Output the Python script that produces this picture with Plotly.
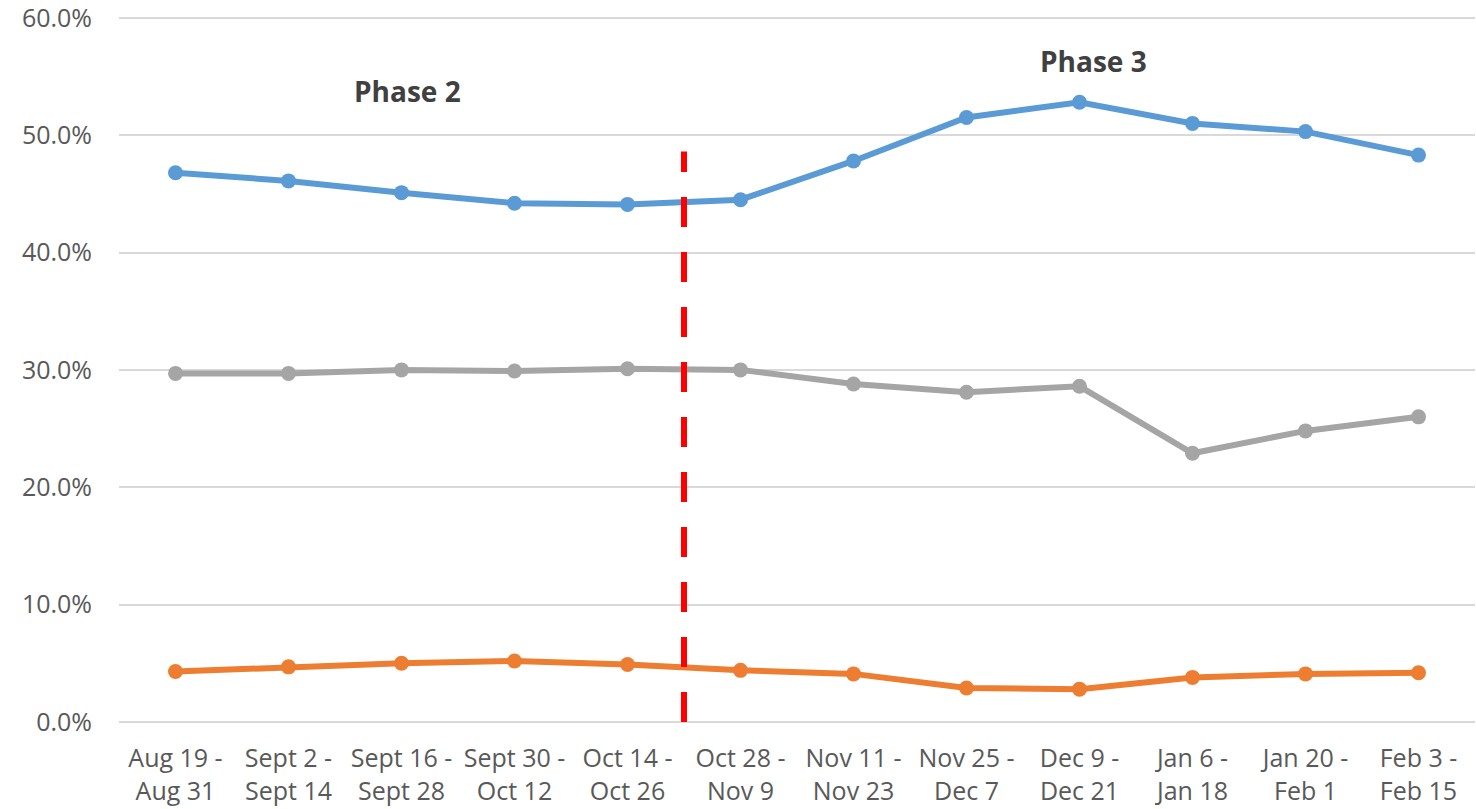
import plotly.graph_objects as go

categories = ["Aug 19 -<br>Aug 31", "Sept 2 -<br>Sept 14", "Sept 16 -<br>Sept 28", "Sept 30 -<br>Oct 12",
              "Oct 14 -<br>Oct 26", "Oct 28 -<br>Nov 9", "Nov 11 -<br>Nov 23", "Nov 25 -<br>Dec 7",
              "Dec 9 -<br>Dec 21", "Jan 6 -<br>Jan 18", "Jan 20 -<br>Feb 1", "Feb 3 -<br>Feb 15"]
blue_vals = [46.8, 46.1, 45.1, 44.2, 44.1, 44.5, 47.8, 51.5, 52.8, 51.0, 50.3, 48.3]
gray_vals = [29.7, 29.7, 30.0, 29.9, 30.1, 30.0, 28.8, 28.1, 28.6, 22.9, 24.8, 26.0]
orange_vals = [4.3, 4.7, 5.0, 5.2, 4.9, 4.4, 4.1, 2.9, 2.8, 3.8, 4.1, 4.2]
y_ticks = [0, 10, 20, 30, 40, 50, 60]
divider_top = 48.6

x_idx = list(range(len(categories)))

fig = go.Figure()
for vals, color in [(blue_vals, "#5B9BD5"), (gray_vals, "#A5A5A5"), (orange_vals, "#ED7D31")]:
    fig.add_trace(go.Scatter(
        x=x_idx, y=vals, mode="lines+markers",
        line=dict(color=color, width=6),
        marker=dict(color=color, size=15),
        showlegend=False, hoverinfo="skip", cliponaxis=False,
    ))

fig.add_shape(type="line", xref="x", yref="y", x0=4.5, x1=4.5, y0=0, y1=divider_top,
              line=dict(color="#FF0000", width=6, dash="30px,25px"), layer="above")

fig.add_annotation(x=2.05, y=53.8, xref="x", yref="y", text="<b>Phase 2</b>", showarrow=False,
                   font=dict(family="Open Sans", size=28, color="#404040"))
fig.add_annotation(x=8.12, y=56.3, xref="x", yref="y", text="<b>Phase 3</b>", showarrow=False,
                   font=dict(family="Open Sans", size=28, color="#404040"))

fig.update_layout(
    width=1476, height=809,
    margin=dict(l=118.5, r=0.5, t=16.2, b=87),
    paper_bgcolor="white", plot_bgcolor="white",
    font=dict(family="Open Sans", size=25, color="#595959"),
    xaxis=dict(
        range=[-0.5, 11.5], tickmode="array", tickvals=x_idx, ticktext=categories,
        showgrid=False, zeroline=False, showline=False, ticks="", ticklabelstandoff=19,
        ticklabeloverflow="allow", automargin=False,
    ),
    yaxis=dict(
        range=[0, 60.15], tickmode="array", tickvals=y_ticks,
        ticktext=[f"{v:.1f}%" for v in y_ticks],
        showgrid=True, gridcolor="#D9D9D9", gridwidth=1.5,
        zeroline=True, zerolinecolor="#D9D9D9", zerolinewidth=1.5,
        showline=False, ticks="", ticklabelstandoff=26,
        ticklabeloverflow="allow", automargin=False,
    ),
)

fig.write_html("out.html", config={"displayModeBar": False},
               post_script="document.body.style.margin='0';")
